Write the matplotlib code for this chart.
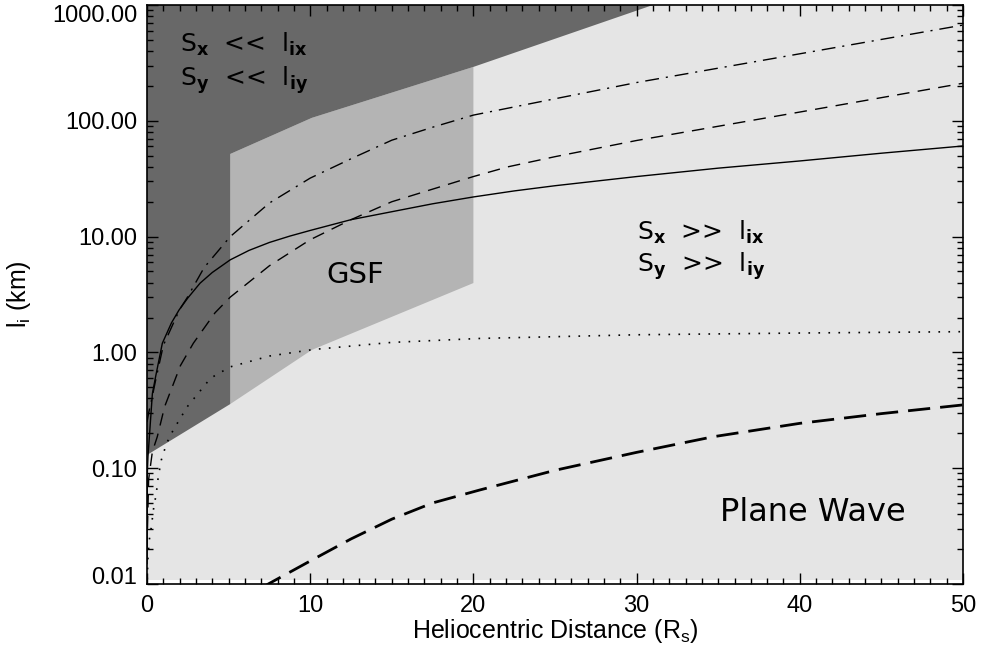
"""Correlation-length curves vs heliocentric distance with the GSF / plane-wave regimes shaded."""
import matplotlib
matplotlib.use("Agg")
import matplotlib.pyplot as plt
from matplotlib.ticker import FixedLocator, FormatStrFormatter, LogLocator, MultipleLocator, NullFormatter

plt.rcParams["font.family"] = ["Liberation Sans", "DejaVu Sans"]
plt.rcParams["mathtext.fontset"] = "custom"
plt.rcParams["mathtext.rm"] = "Liberation Sans"
plt.rcParams["mathtext.bf"] = "DejaVu Sans:bold"

# regime polygons (x in R_s, y in km)
LIGHT_X = [0, 50, 50, 0]
LIGHT_Y = [0.0108, 0.0108, 1000, 1000]
DARK_X = [0, 0, 5.1, 5.1, 10.1, 20, 31]
DARK_Y = [1000, 0.13, 0.358, 51.7, 106, 292, 1000]
GSF_X = [5.1, 10.1, 20, 20, 10.1, 5.1]
GSF_Y = [0.358, 1.05, 3.97, 292, 106, 51.7]

# curves
SOLID_X = [0.0, 0.02, 0.06, 0.33, 0.53, 0.94, 1.5, 1.96, 2.5, 3.25, 4.0, 5.1, 6.25, 7.5, 8.75, 10,
           12.5, 15, 17.5, 20, 22.5, 25, 30, 35, 40, 45, 50]
SOLID_Y = [0.015, 0.09, 0.126, 0.44, 0.62, 1.2, 1.8, 2.32, 2.95, 3.96, 4.9, 6.3, 7.6, 8.9, 10.1, 11.3,
           14.0, 16.4, 19.2, 22.0, 24.8, 27.5, 33.0, 39.0, 45.0, 52.5, 60.6]

DASHDOT_X = [0.0, 0.1, 0.3, 0.5, 1.0, 2.0, 2.45, 3.5, 5.1, 7.5, 10, 12.5, 15, 17.5, 20, 25, 30, 40, 50]
DASHDOT_Y = [0.25, 0.3, 0.4, 0.55, 1.15, 2.35, 2.95, 5.4, 10, 19.5, 32, 47, 68, 88, 112, 155, 214, 379,
             671]

DASHED_X = [0.0, 0.1, 0.33, 0.63, 1.08, 2.05, 2.84, 4.17, 5.1, 7.5, 10, 12.5, 15, 20, 22.1, 25, 30, 40,
            50]
DASHED_Y = [0.02, 0.08, 0.139, 0.187, 0.34, 0.77, 1.2, 2.2, 3.0, 5.6, 9.4, 14.0, 20.0, 33.0, 40.0,
            49.0, 67.6, 119, 211]

DOTTED_X = [0.0, 0.02, 0.06, 0.14, 0.27, 0.39, 0.57, 0.69, 0.88, 1.2, 1.61, 2.47, 3.9, 5.1, 7.5,
            10.2, 15, 20.4, 30, 40, 50]
DOTTED_Y = [0.009, 0.0116, 0.0172, 0.024, 0.0313, 0.0436, 0.0607, 0.0845, 0.118, 0.164, 0.214, 0.34,
            0.60, 0.75, 0.93, 1.06, 1.22, 1.32, 1.42, 1.47, 1.51]

LONGDASH_X = [7.0, 7.43, 10, 12.5, 15, 17.5, 20.4, 25, 30, 34.7, 40, 45, 50]
LONGDASH_Y = [0.0092, 0.01, 0.0158, 0.0245, 0.0363, 0.0501, 0.0649, 0.0959, 0.137, 0.187, 0.244,
              0.296, 0.352]

Y_TICKS = [0.01, 0.1, 1, 10, 100, 1000]


def main():
    fig = plt.figure(figsize=(9.81, 6.56), dpi=100)
    ax = fig.add_axes([147 / 981, 72 / 656, 816 / 981, 579 / 656])
    ax.set_yscale("log")

    # shaded regimes
    ax.fill(LIGHT_X, LIGHT_Y, color="#e5e5e5", lw=0, zorder=1)
    ax.fill(GSF_X, GSF_Y, color="#b4b4b4", lw=0, zorder=1)
    ax.fill(DARK_X, DARK_Y, color="#686868", lw=0, zorder=1)

    ax.plot(SOLID_X, SOLID_Y, color="black", lw=1.0, zorder=3)
    ax.plot(DASHDOT_X, DASHDOT_Y, color="black", lw=1.0, ls=(0, (10, 5, 1.5, 5)), zorder=3)
    ax.plot(DASHED_X, DASHED_Y, color="black", lw=1.0, ls=(0, (9, 6)), zorder=3)
    ax.plot(DOTTED_X, DOTTED_Y, color="black", lw=1.2, ls=(0, (1, 5)), zorder=3)
    ax.plot(LONGDASH_X, LONGDASH_Y, color="black", lw=2.0, ls=(0, (8, 3.6)), zorder=3)

    ax.set_xlim(0, 50)
    ax.set_ylim(0.01, 1000)

    ax.xaxis.set_major_locator(MultipleLocator(10))
    ax.xaxis.set_minor_locator(MultipleLocator(1))
    ax.yaxis.set_major_locator(FixedLocator(Y_TICKS))
    ax.yaxis.set_major_formatter(FormatStrFormatter("%.2f"))
    ax.yaxis.set_minor_locator(LogLocator(subs=range(2, 10)))
    ax.yaxis.set_minor_formatter(NullFormatter())
    ax.tick_params(which="both", direction="in", top=True, right=True, width=1.0, labelsize=17)
    ax.tick_params(which="major", length=8)
    ax.tick_params(which="minor", length=4)
    ax.tick_params(axis="x", pad=8)
    ax.tick_params(axis="y", pad=7)
    for s in ax.spines.values():
        s.set_linewidth(1.2)
        s.set_zorder(5)

    yt = ax.yaxis.get_major_ticks()
    yt[0].label1.set_verticalalignment("baseline")
    yt[-1].label1.set_verticalalignment("top")

    ax.set_xlabel(r"Heliocentric Distance (R$_\mathrm{s}$)", fontsize=18, labelpad=0)
    ax.set_ylabel(r"l$_\mathrm{i}$ (km)", fontsize=18)
    ax.yaxis.set_label_coords(-0.140, 0.5)

    # regime labels
    txt = dict(transform=ax.transAxes, family="DejaVu Sans", va="baseline", zorder=4)
    ax.text(0.040, 0.919, r"S$_\mathbf{x}$  <<  l$_\mathbf{ix}$", fontsize=18, **txt)
    ax.text(0.040, 0.860, r"S$_\mathbf{y}$  <<  l$_\mathbf{iy}$", fontsize=18, **txt)
    ax.text(0.600, 0.594, r"S$_\mathbf{x}$  >>  l$_\mathbf{ix}$", fontsize=18, **txt)
    ax.text(0.600, 0.539, r"S$_\mathbf{y}$  >>  l$_\mathbf{iy}$", fontsize=18, **txt)
    ax.text(0.220, 0.519, "GSF", fontsize=21, **txt)
    ax.text(0.702, 0.108, "Plane Wave", fontsize=23, **txt)

    fig.savefig("out.png", dpi=100, facecolor="white")
    plt.close(fig)


if __name__ == "__main__":
    main()
